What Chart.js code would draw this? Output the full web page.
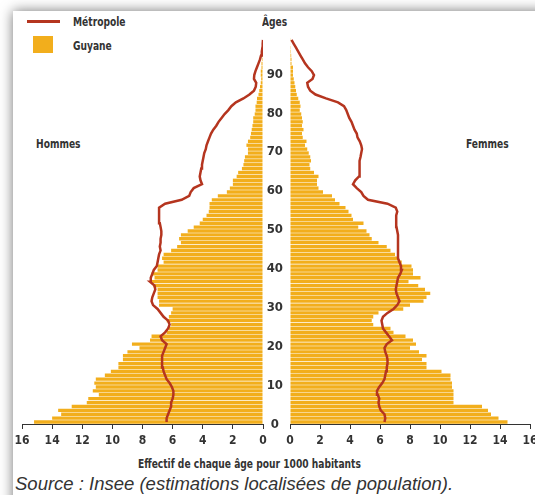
<!DOCTYPE html>
<html lang="fr">
<head>
<meta charset="utf-8">
<script src="https://cdn.jsdelivr.net/npm/chart.js@4.4.1/dist/chart.umd.min.js"></script>
<style>
    html, body { margin: 0; padding: 0; width: 535px; height: 495px; overflow: hidden; background: #fff; }
    .card { position: absolute; left: 13px; top: 11px; width: 600px; height: 600px; background: #fff; box-shadow: 0 0 12px rgba(0,0,0,0.55); }
    .cond { position: absolute; font-family: "DejaVu Sans Condensed", sans-serif; font-weight: bold; font-size: 13px; color: #333; white-space: nowrap; transform: scaleX(0.78); transform-origin: 0 0; }
    canvas { position: absolute; }
    .source { position: absolute; left: 15px; top: 473px; font-family: "Liberation Sans", Arial, sans-serif; font-style: italic; font-size: 18.5px; color: #333; white-space: nowrap; }
</style>
</head>
<body>
<div class="card"></div>

<div style="position:absolute; left:27px; top:20px; width:33px; height:3px; background:#b5351f;"></div>
<div style="position:absolute; left:33px; top:36px; width:20px; height:17px; background:#f2ae1c;"></div>
<div class="cond" style="left:73px; top:14px;">Métropole</div>
<div class="cond" style="left:73px; top:38px;">Guyane</div>
<div class="cond" style="left:262px; top:14px;">Âges</div>
<div class="cond" style="left:36px; top:136px;">Hommes</div>
<div class="cond" style="left:466px; top:136px;">Femmes</div>
<div class="cond" style="left:138px; top:456px;">Effectif de chaque âge pour 1000 habitants</div>
<div class="source">Source : Insee (estimations localisées de population).</div>

<canvas id="hommesChart" width="268" height="427" style="left:0; top:23px;"></canvas>
<canvas id="femmesChart" width="280" height="427" style="left:263px; top:23px;"></canvas>

<script>
// ages 0 to 98
const ages = [];
for (let a = 0; a <= 98; a++) ages.push(a);

const valueTicks = [0, 2, 4, 6, 8, 10, 12, 14, 16];

// Guyane, effectif pour 1000 habitants
const hommesGuyane = [
    15.2, 14.0, 13.4, 13.6, 12.7, 11.7, 11.6, 10.9, 11.3, 11.1,
    11.2, 11.1, 10.5, 10.1, 9.6, 9.6, 9.3, 9.3, 9.0, 8.2,
    8.7, 7.5, 7.4, 6.4, 6.25, 6.1, 6.4, 6.25, 6.1, 6.0,
    6.9, 6.9, 7.0, 7.0, 7.0, 7.3, 7.5, 7.2, 7.4, 7.0,
    7.0, 6.6, 6.7, 6.6, 6.1, 5.7, 5.45, 5.57, 5.45, 5.0,
    4.6, 4.2, 4.0, 3.75, 3.6, 3.55, 3.55, 3.4, 3.0, 2.4,
    2.2, 2.0, 2.0, 1.75, 1.65, 1.4, 1.3, 1.25, 1.2, 1.0,
    1.0, 1.1, 1.0, 0.85, 0.8, 0.75, 0.7, 0.65, 0.65, 0.55,
    0.5, 0.5, 0.42, 0.4, 0.3, 0.25, 0.2, 0.15, 0.12, 0.15,
    0.15, 0.1, 0.1, 0.07, 0.05, 0.05, 0.03, 0.02, 0
];
const femmesGuyane = [
    14.5, 13.9, 13.4, 13.2, 12.8, 10.9, 10.9, 10.9, 10.9, 10.8,
    10.8, 10.7, 10.7, 10.1, 9.1, 9.1, 8.8, 9.1, 8.6, 8.0,
    8.4, 8.2, 7.7, 6.9, 6.7, 5.55, 5.45, 5.55, 5.9, 7.55,
    8.0, 8.9, 9.1, 9.35, 9.0, 8.55, 7.9, 8.7, 8.2, 8.2,
    8.1, 7.45, 7.2, 7.0, 6.7, 6.45, 5.9, 5.45, 5.3, 5.1,
    4.55, 4.9, 4.2, 4.1, 3.9, 3.7, 3.3, 3.0, 2.8, 2.2,
    1.9, 1.8, 1.8, 1.9, 1.6, 1.35, 1.3, 1.4, 1.35, 1.25,
    1.15, 1.0, 1.1, 0.85, 0.8, 0.9, 0.8, 0.85, 0.8, 0.75,
    0.65, 0.7, 0.65, 0.55, 0.45, 0.4, 0.35, 0.3, 0.25, 0.2,
    0.2, 0.2, 0.1, 0.1, 0.08, 0.06, 0.05, 0.03, 0.02
];

// Métropole
const hommesMetropole = [
    6.4, 6.4, 6.3, 6.2, 6.1, 6.1, 6.0, 5.95, 5.95, 6.05,
    6.2, 6.4, 6.5, 6.6, 6.65, 6.7, 6.7, 6.7, 6.6, 6.5,
    6.4, 6.7, 6.8, 6.5, 6.3, 6.2, 6.3, 6.6, 6.8, 7.0,
    7.3, 7.4, 7.35, 7.25, 7.15, 7.2, 7.5, 7.45, 7.35, 7.25,
    7.05, 7.0, 6.95, 6.9, 6.8, 6.85, 6.8, 6.8, 6.75, 6.75,
    6.8, 6.85, 6.9, 6.9, 6.9, 6.9, 6.5, 5.4, 4.9, 4.8,
    4.6, 4.05, 4.15, 4.2, 4.15, 4.1, 4.05, 4.0, 3.95, 3.9,
    3.8, 3.75, 3.65, 3.55, 3.45, 3.3, 3.1, 2.95, 2.75, 2.55,
    2.3, 2.1, 1.8, 1.3, 0.9, 0.6, 0.48, 0.45, 0.6, 0.58,
    0.5, 0.4, 0.3, 0.2, 0.13, 0.08, 0.04, 0.02, 0
];
const femmesMetropole = [
    6.3, 6.35, 6.3, 6.05, 5.95, 5.9, 5.95, 5.85, 5.8, 5.95,
    6.15, 6.3, 6.35, 6.4, 6.45, 6.5, 6.5, 6.45, 6.35, 6.3,
    6.45, 6.8, 6.6, 6.4, 6.2, 6.15, 6.1, 6.2, 6.5, 6.9,
    7.15, 7.3, 7.2, 7.1, 7.05, 7.1, 7.15, 7.2, 7.35, 7.45,
    7.4, 7.3, 7.2, 7.2, 7.2, 7.2, 7.2, 7.2, 7.2, 7.15,
    7.1, 7.07, 7.07, 7.1, 7.15, 7.05, 6.5, 5.2, 4.9, 4.75,
    4.45, 4.2, 4.35, 4.6, 4.65, 4.65, 4.6, 4.65, 4.7, 4.75,
    4.8, 4.75, 4.65, 4.5, 4.45, 4.3, 4.2, 4.1, 3.95, 3.85,
    3.75, 3.6, 3.2, 2.4, 1.7, 1.35, 1.2, 1.15, 1.5, 1.6,
    1.45, 1.2, 1.0, 0.85, 0.7, 0.55, 0.4, 0.25, 0.1
];

const BAR_COLOR = '#f2ae1c';
const LINE_COLOR = '#b5351f';
const TEXT_COLOR = '#333';
const FONT_FAMILY = '"DejaVu Sans Condensed", sans-serif';

function makeDatasets(bars, line) {
    return [
        {
            type: 'line',
            indexAxis: 'y',
            data: line,
            borderColor: LINE_COLOR,
            borderWidth: 2.5,
            pointRadius: 0,
            tension: 0,
            fill: false,
            order: 0
        },
        {
            type: 'bar',
            data: bars,
            backgroundColor: BAR_COLOR,
            barPercentage: 0.86,
            categoryPercentage: 1,
            order: 1
        }
    ];
}

function xScale(reverse) {
    return {
        type: 'linear',
        min: 0,
        max: 16,
        reverse: reverse,
        afterBuildTicks: (s) => { s.ticks = valueTicks.map(v => ({ value: v })); },
        afterFit: (s) => { s.height = 26; },
        grid: { drawOnChartArea: false, drawTicks: true, tickLength: 5, color: TEXT_COLOR },
        border: { display: true, color: TEXT_COLOR, width: 1 },
        ticks: { color: TEXT_COLOR, padding: 5, font: { family: FONT_FAMILY, size: 12, weight: 'bold' } }
    };
}

// --- HOMMES (left) ---
new Chart(document.getElementById('hommesChart'), {
    type: 'bar',
    data: { labels: ages, datasets: makeDatasets(hommesGuyane, hommesMetropole) },
    options: {
        indexAxis: 'y',
        responsive: false,
        animation: false,
        layout: { padding: { top: 15, left: 22, right: 5, bottom: 0 } },
        plugins: { legend: { display: false }, tooltip: { enabled: false } },
        scales: {
            x: xScale(true),
            y: { type: 'category', reverse: true, display: false }
        }
    }
});

// --- FEMMES (right), carries the age labels ---
new Chart(document.getElementById('femmesChart'), {
    type: 'bar',
    data: { labels: ages, datasets: makeDatasets(femmesGuyane, femmesMetropole) },
    options: {
        indexAxis: 'y',
        responsive: false,
        animation: false,
        layout: { padding: { top: 15, left: 0, right: 13, bottom: 0 } },
        plugins: { legend: { display: false }, tooltip: { enabled: false } },
        scales: {
            x: xScale(false),
            y: {
                type: 'category',
                reverse: true,
                afterFit: (s) => { s.width = 27; },
                grid: { display: false, drawTicks: false },
                border: { display: false },
                ticks: {
                    autoSkip: false,
                    crossAlign: 'center',
                    padding: 7,
                    labelOffset: 3,
                    color: TEXT_COLOR,
                    font: { family: FONT_FAMILY, size: 13, weight: 'bold' },
                    callback: (value, index) => (ages[index] % 10 === 0 ? String(ages[index]) : '')
                }
            }
        }
    }
});
</script>
</body>
</html>
